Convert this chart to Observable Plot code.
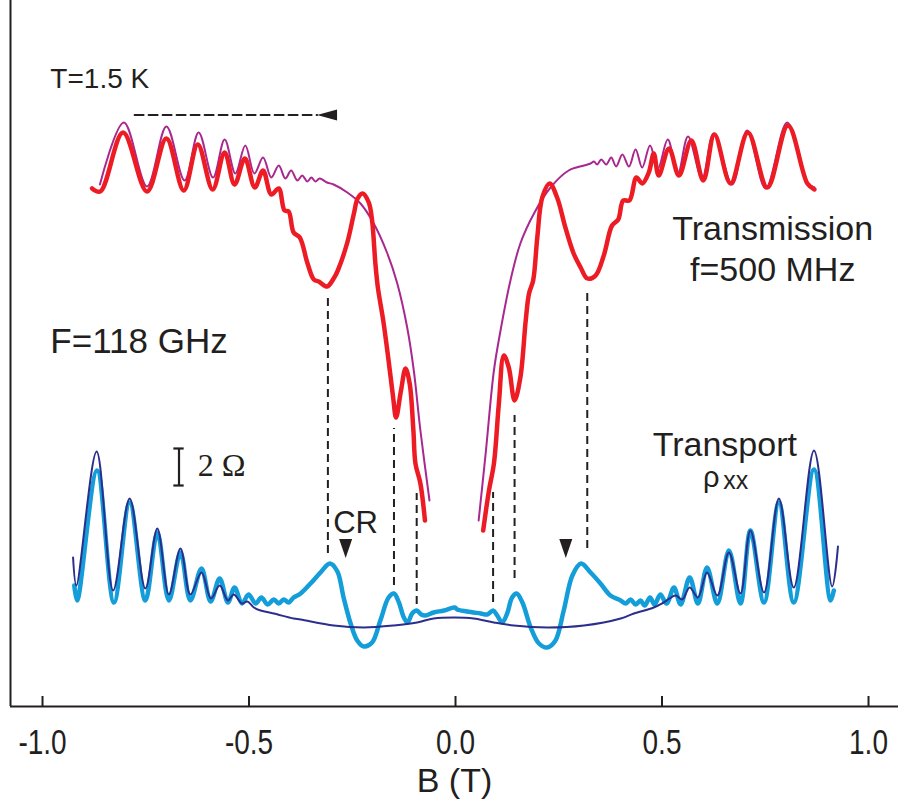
<!DOCTYPE html>
<html><head><meta charset="utf-8">
<script src="https://cdn.jsdelivr.net/npm/d3@7"></script>
<script src="https://cdn.jsdelivr.net/npm/@observablehq/plot@0.6"></script>
<style>body{margin:0;background:#fff;}</style>
</head><body><div id="chart"></div>
<script>
// x: magnetic field B (T); y: signal in arbitrary units (offset traces)
const xTicks = [-1.0, -0.5, 0.0, 0.5, 1.0];

// Microwave transmission with 118 GHz irradiation (thick red)
const redLeft = [[-0.880,518],[-0.860,515],[-0.805,574],[-0.747,515],[-0.700,568],[-0.658,516],[-0.624,562],[-0.588,517],[-0.559,554],[-0.535,522],[-0.510,548],[-0.486,519],[-0.466,536],[-0.446,512],[-0.428,518],[-0.414,496],[-0.404,495],[-0.392,474],[-0.377,469],[-0.359,444],[-0.343,427],[-0.331,425],[-0.311,420],[-0.295,428],[-0.285,436],[-0.262,464],[-0.246,493],[-0.237,508],[-0.225,513],[-0.210,504],[-0.202,486],[-0.194,443],[-0.188,419],[-0.175,386],[-0.163,349],[-0.151,309],[-0.144,289],[-0.132,316],[-0.121,338],[-0.111,323],[-0.102,276],[-0.097,243],[-0.085,223],[-0.074,186]];
const redRight = [[0.067,176],[0.081,216],[0.093,243],[0.105,303],[0.117,351],[0.129,339],[0.143,306],[0.157,329],[0.170,386],[0.178,413],[0.188,426],[0.198,469],[0.210,509],[0.228,523],[0.246,509],[0.266,479],[0.286,453],[0.303,439],[0.319,428],[0.339,431],[0.359,451],[0.379,481],[0.394,487],[0.406,506],[0.421,506],[0.438,529],[0.452,523],[0.468,534],[0.480,553],[0.492,531],[0.517,558],[0.541,531],[0.571,566],[0.600,526],[0.627,572],[0.666,523],[0.708,574],[0.755,519],[0.805,581],[0.852,523],[0.869,517]];

// Transmission without irradiation (thin purple)
const purpleLeft = [[-0.861,522],[-0.803,584],[-0.747,520],[-0.700,580],[-0.656,526],[-0.622,574],[-0.587,529],[-0.559,567],[-0.533,533],[-0.509,561],[-0.487,533],[-0.466,549],[-0.446,529],[-0.428,541],[-0.412,528],[-0.398,536],[-0.383,526],[-0.371,531],[-0.359,525],[-0.349,529],[-0.339,525],[-0.329,528],[-0.311,524],[-0.295,522],[-0.262,514],[-0.230,503],[-0.198,483],[-0.165,453],[-0.141,423],[-0.117,379],[-0.101,336],[-0.085,276],[-0.063,206]];
const purpleRight = [[0.056,186],[0.073,253],[0.093,336],[0.109,376],[0.133,426],[0.157,463],[0.190,493],[0.230,519],[0.274,536],[0.311,541],[0.327,543],[0.335,545],[0.343,542],[0.353,547],[0.365,542],[0.377,549],[0.389,540],[0.404,552],[0.420,540],[0.436,557],[0.452,539],[0.471,561],[0.490,538],[0.514,567],[0.538,532],[0.563,570],[0.597,528],[0.625,573],[0.670,522],[0.706,576],[0.751,518],[0.803,584],[0.852,524],[0.869,519]];

// Transport rho_xx with irradiation (thick light blue)
const rhoIrr = [[-0.923,121],[-0.916,106],[-0.868,236],[-0.827,104],[-0.789,204],[-0.751,106],[-0.722,174],[-0.694,106],[-0.666,154],[-0.642,106],[-0.615,138],[-0.593,105],[-0.571,128],[-0.551,104],[-0.535,119],[-0.517,103],[-0.501,112],[-0.484,103],[-0.470,109],[-0.455,102],[-0.440,107],[-0.428,103],[-0.416,107],[-0.404,104],[-0.392,109],[-0.375,113],[-0.351,123],[-0.327,134],[-0.304,143],[-0.286,135],[-0.271,109],[-0.254,83],[-0.238,66],[-0.222,60],[-0.202,64],[-0.182,86],[-0.162,109],[-0.149,113],[-0.137,104],[-0.125,89],[-0.116,84],[-0.105,93],[-0.094,96],[-0.083,92],[-0.073,91],[-0.053,94],[-0.028,96],[-0.002,99],[0.004,97],[0.028,95],[0.061,93],[0.077,92],[0.091,96],[0.101,91],[0.113,84],[0.125,93],[0.137,109],[0.148,113],[0.162,104],[0.182,79],[0.202,63],[0.222,59],[0.242,66],[0.262,96],[0.283,131],[0.304,143],[0.327,134],[0.351,123],[0.375,111],[0.400,106],[0.412,103],[0.424,107],[0.436,102],[0.448,106],[0.458,101],[0.471,109],[0.482,102],[0.496,112],[0.511,103],[0.529,119],[0.545,102],[0.567,129],[0.587,103],[0.609,139],[0.634,103],[0.662,156],[0.690,103],[0.714,176],[0.747,104],[0.783,204],[0.819,104],[0.868,237],[0.908,106],[0.916,116]];

// Transport rho_xx without irradiation (thin dark blue)
const rhoDark = [[-0.926,149],[-0.918,121],[-0.869,255],[-0.829,116],[-0.789,208],[-0.751,118],[-0.722,178],[-0.694,112],[-0.666,158],[-0.642,112],[-0.615,134],[-0.592,108],[-0.571,121],[-0.551,106],[-0.537,112],[-0.517,103],[-0.504,105],[-0.488,99],[-0.472,96],[-0.440,93],[-0.392,88],[-0.375,87],[-0.295,81],[-0.222,79],[-0.149,81],[-0.093,84],[-0.053,88],[-0.002,89],[0.044,88],[0.093,84],[0.141,81],[0.222,79],[0.311,81],[0.400,88],[0.432,93],[0.480,99],[0.504,104],[0.533,111],[0.549,107],[0.567,119],[0.587,109],[0.609,134],[0.634,111],[0.662,154],[0.690,113],[0.714,176],[0.747,114],[0.783,208],[0.819,119],[0.868,256],[0.912,120],[0.926,160]];

// Dashed guides: [B, lower end, upper end]
const guides = [[-0.309,153,411],[-0.149,121,278],[-0.094,102,213],[0.091,104,214],[0.143,128,291],[0.319,158,416]];
// Cyclotron resonance markers
const crMarks = [[-0.266,158],[0.267,158]];
// Sweep-direction arrow
const arrowDash = [[-0.777,591.5],[-0.335,591.5]];
const arrowHead = [[-0.311,591.5]];
// 2 Ohm scale bar [B, low, high]
const scaleBar = [[-0.6695,221,258]];

const leftLabels = [
  {t:"T=1.5 K", x:-0.981, y:619, s:28},
  {t:"F=118 GHz", x:-0.981, y:354, s:35}
];
const midLabels = [
  {t:"Transmission", x:0.768, y:467, s:34},
  {t:"f=500 MHz", x:0.768, y:426, s:34},
  {t:"Transport", x:0.652, y:251, s:34},
  {t:"CR", x:-0.242, y:174, s:31}
];

const triDown = {draw(c){c.moveTo(-6.5,-9.5);c.lineTo(6.5,-9.5);c.lineTo(0,9.5);c.closePath();}};
const triLeft = {draw(c){c.moveTo(-10,0);c.lineTo(10,-5.5);c.lineTo(10,5.5);c.closePath();}};

const X = d => d[0], Y = d => d[1];
const sans = "'Liberation Sans', Arial, Helvetica, sans-serif";
const capHalf = 0.0125;
const ink = "#231f20";

const chart = Plot.plot({
  width: 898, height: 799,
  marginLeft: 10, marginRight: 0, marginTop: 0, marginBottom: 93,
  x: {type: "linear", domain: [-1.0775, 1.0726]},
  y: {type: "linear", domain: [0, 706], axis: null},
  style: {fontFamily: sans, background: "white", color: ink},
  marks: [
    Plot.ruleY([0], {stroke: ink, strokeWidth: 2}),
    Plot.ruleX([-1.0775], {y1: 0, y2: 706, stroke: ink, strokeWidth: 2}),
    Plot.ruleX(xTicks, {y1: 0, y2: 10, stroke: ink, strokeWidth: 2}),
    Plot.axisX({ticks: xTicks, tickFormat: d => d.toFixed(1), tickSize: 0, tickPadding: 23, fontSize: 35, label: null}),
    Plot.text(["B (T)"], {frameAnchor: "bottom", dy: 85, lineAnchor: "bottom", fontSize: 34, ariaLabel: "xlabel"}),
    Plot.ruleX(guides, {x: d => d[0], y1: d => d[1], y2: d => d[2], stroke: ink, strokeWidth: 2, strokeDasharray: "8,5"}),
    Plot.line(purpleLeft, {x: X, y: Y, stroke: "#a8288f", strokeWidth: 2, curve: "catmull-rom"}),
    Plot.line(purpleRight, {x: X, y: Y, stroke: "#a8288f", strokeWidth: 2, curve: "catmull-rom"}),
    Plot.line(redLeft, {x: X, y: Y, stroke: "#ed1c24", strokeWidth: 4.5, curve: "catmull-rom"}),
    Plot.line(redRight, {x: X, y: Y, stroke: "#ed1c24", strokeWidth: 4.5, curve: "catmull-rom"}),
    Plot.line(rhoIrr, {x: X, y: Y, stroke: "#139dd9", strokeWidth: 4.5, curve: "catmull-rom"}),
    Plot.line(rhoDark, {x: X, y: Y, stroke: "#2b2e8c", strokeWidth: 2, curve: "catmull-rom"}),
    Plot.dot(crMarks, {x: X, y: Y, symbol: triDown, fill: ink, stroke: "none"}),
    Plot.line(arrowDash, {x: X, y: Y, stroke: ink, strokeWidth: 2, strokeDasharray: "9,5"}),
    Plot.dot(arrowHead, {x: X, y: Y, symbol: triLeft, fill: ink, stroke: "none"}),
    Plot.ruleX(scaleBar, {x: d => d[0], y1: d => d[1], y2: d => d[2], stroke: ink, strokeWidth: 2.2}),
    Plot.ruleY(scaleBar, {y: d => d[1], x1: d => d[0] - capHalf, x2: d => d[0] + capHalf, stroke: ink, strokeWidth: 2.2}),
    Plot.ruleY(scaleBar, {y: d => d[2], x1: d => d[0] - capHalf, x2: d => d[0] + capHalf, stroke: ink, strokeWidth: 2.2}),
    Plot.text(leftLabels, {x: d => d.x, y: d => d.y, text: d => d.t, textAnchor: "start", fontSize: d => d.s, lineAnchor: "bottom", fill: ink}),
    Plot.text(midLabels, {x: d => d.x, y: d => d.y, text: d => d.t, textAnchor: "middle", fontSize: d => d.s, lineAnchor: "bottom", fill: ink}),
    Plot.text(["ρ"], {x: 0.599, y: 220, fontSize: 29, textAnchor: "start", lineAnchor: "bottom", fill: ink}),
    Plot.text(["xx"], {x: 0.648, y: 218, fontSize: 25, textAnchor: "start", lineAnchor: "bottom", fill: ink}),
    Plot.text(["2 Ω"], {x: -0.624, y: 231, fontSize: 32, textAnchor: "start", lineAnchor: "bottom", fontFamily: "'Liberation Serif', 'Times New Roman', serif", fill: ink})
  ]
});
// condensed look of the axis lettering (as in the reference typeface)
chart.querySelectorAll('g[aria-label="x-axis tick label"] text, g[aria-label="xlabel"] text').forEach(t => {
  const tr = t.getAttribute("transform") || "";
  t.setAttribute("transform", tr + " scale(0.8,1)");
});
document.getElementById("chart").appendChild(chart);
</script></body></html>
